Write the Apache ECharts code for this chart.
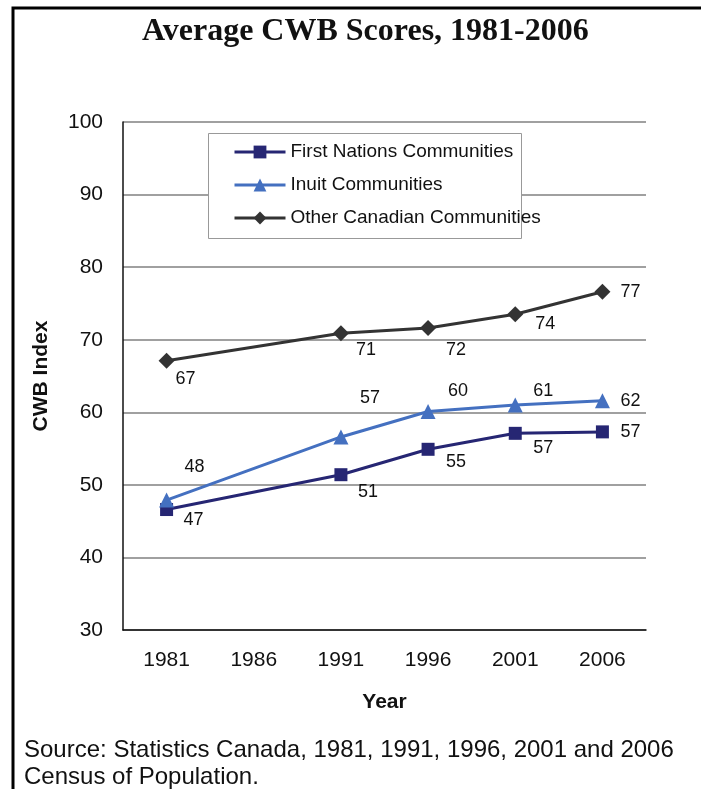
<!DOCTYPE html>
<html>
<head>
<meta charset="utf-8">
<script src="https://cdn.jsdelivr.net/npm/echarts@6/dist/echarts.min.js"></script>
<style>
  html, body { margin: 0; padding: 0; background: #fff; }
</style>
</head>
<body>

<div id="main" style="width: 701px;height:789px;"></div>
<script type="text/javascript">
    // data (1986 has no survey value)
    var years = ['1981', '1986', '1991', '1996', '2001', '2006'];
    var firstNations = [46.6, null, 51.4, 54.9, 57.1, 57.3];
    var inuit = [47.9, null, 56.6, 60.1, 61.0, 61.6];
    var otherCanadian = [67.1, null, 70.9, 71.6, 73.5, 76.6];
    var yTicks = [30, 40, 50, 60, 70, 80, 90, 100];

    // where each value label sits relative to its point
    var labelOffsets = {
        fn:    [[27, 10], null, [27, 17], [28, 13], [28, 15], [28, 0]],
        inuit: [[28, -33], null, [29, -39], [30, -21], [28, -14], [28, 0]],
        other: [[19, 18], null, [25, 17], [28, 22], [30, 10], [28, 0]]
    };

    var font = 'Liberation Sans, Arial, sans-serif';

    function withLabels(values, offsets) {
        return values.map(function (v, i) {
            if (v === null) return null;
            return {
                value: v,
                label: { offset: offsets[i] }
            };
        });
    }

    function makeSeries(name, values, offsets, color, symbol, size) {
        return {
            name: name,
            type: 'line',
            data: withLabels(values, offsets),
            connectNulls: true,
            symbol: symbol,
            symbolSize: size,
            color: color,
            lineStyle: { width: 3, color: color },
            itemStyle: { color: color },
            label: {
                show: true,
                position: 'inside',
                color: '#111',
                fontFamily: font,
                fontSize: 18,
                formatter: function (p) { return Math.round(p.value); }
            },
            emphasis: { disabled: true },
            animation: false
        };
    }

    var myChart = echarts.init(document.getElementById('main'));

    var option = {
        backgroundColor: '#fff',
        title: {
            text: 'Average CWB Scores, 1981-2006',
            left: 137,
            top: 11,
            textStyle: {
                fontFamily: 'Liberation Serif, Times New Roman, serif',
                fontWeight: 'bold',
                fontSize: 32,
                color: '#111'
            }
        },
        legend: {
            orient: 'vertical',
            left: 208,
            top: 133,
            padding: [9, 10, 10, 25],
            itemWidth: 51,
            itemHeight: 16,
            itemGap: 13,
            itemTextGap: 4,
            lineStyle: { width: 3 },
            textStyle: { fontFamily: font, fontSize: 19, color: '#111', lineHeight: 20 },
            data: ['First Nations Communities', 'Inuit Communities', 'Other Canadian Communities'],
            z: 5
        },
        grid: {
            left: 123,
            top: 122,
            right: 55,
            bottom: 159
        },
        xAxis: {
            type: 'category',
            data: years,
            boundaryGap: true,
            name: 'Year',
            nameLocation: 'middle',
            nameGap: 62,
            nameTextStyle: { fontFamily: font, fontSize: 21, fontWeight: 'bold', color: '#111' },
            axisLine: { lineStyle: { color: '#111', width: 1.5 } },
            axisTick: { show: false },
            axisLabel: { fontFamily: font, fontSize: 21, color: '#111', margin: 20 }
        },
        yAxis: {
            type: 'value',
            min: yTicks[0],
            max: yTicks[yTicks.length - 1],
            interval: 10,
            name: 'CWB Index',
            nameLocation: 'middle',
            nameGap: 71,
            nameTextStyle: { fontFamily: font, fontSize: 21, fontWeight: 'bold', color: '#111' },
            axisLine: { show: true, lineStyle: { color: '#111', width: 1.5 } },
            axisTick: { show: false },
            axisLabel: { fontFamily: font, fontSize: 21, color: '#111', margin: 20 },
            splitLine: { show: true, lineStyle: { color: '#808080', width: 1.5 } }
        },
        graphic: [
            {
                // outer frame, clipped on the right and bottom
                type: 'polyline',
                shape: { points: [[13, 789], [13, 8], [701, 8]] },
                style: { stroke: '#000', lineWidth: 3, fill: null },
                z: 10
            },
            {
                type: 'rect',
                shape: { x: 208.5, y: 133.5, width: 313, height: 105 },
                style: { fill: '#fff', stroke: '#999', lineWidth: 1 },
                z: 3
            },
            {
                type: 'text',
                left: 24,
                top: 737,
                style: {
                    text: 'Source: Statistics Canada, 1981, 1991, 1996, 2001 and 2006\nCensus of Population.',
                    font: '24px ' + font,
                    fill: '#111',
                    lineHeight: 27
                }
            }
        ],
        series: [
            makeSeries('First Nations Communities', firstNations, labelOffsets.fn, '#262673', 'rect', 13),
            makeSeries('Inuit Communities', inuit, labelOffsets.inuit, '#4470C0', 'triangle', 15),
            makeSeries('Other Canadian Communities', otherCanadian, labelOffsets.other, '#333333', 'diamond', 16)
        ]
    };

    myChart.setOption(option);
</script>
</body>
</html>
